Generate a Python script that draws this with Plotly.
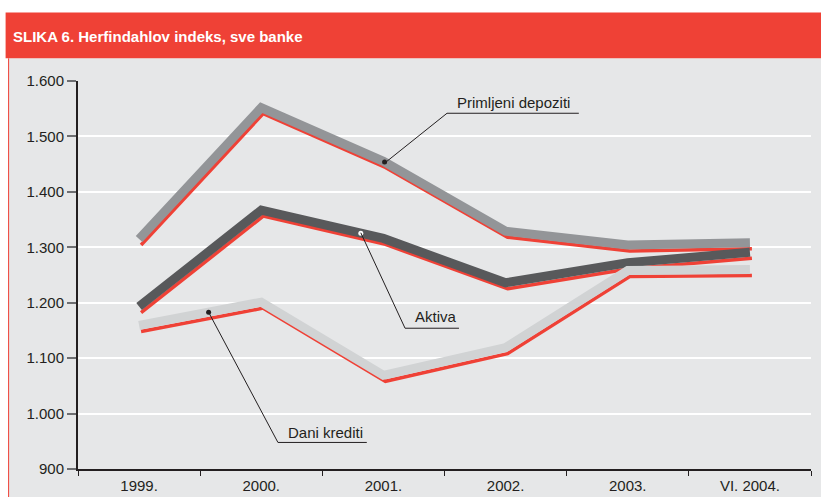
import numpy as np
import plotly.graph_objects as go

# ---- data ----
categories = ["1999.", "2000.", "2001.", "2002.", "2003.", "VI. 2004."]
primljeni_depoziti = [1315, 1552, 1455, 1329, 1304, 1308]
aktiva = [1193, 1367, 1316, 1236, 1272, 1291]
dani_krediti = [1159, 1201, 1069, 1119, 1258, 1260]
y_tickvals = [900, 1000, 1100, 1200, 1300, 1400, 1500, 1600]
y_ticktext = ["900", "1.000", "1.100", "1.200", "1.300", "1.400", "1.500", "1.600"]
title_text = "SLIKA 6. Herfindahlov indeks, sve banke"

# ---- layout geometry (pixels) ----
W, H = 821, 497
ML, MR, MT, MB = 77.5, 9.5, 80.7, 27.7
PW, PH = W - ML - MR, H - MT - MB
Y0, Y1 = 900, 1600
nC = len(categories)
X0, X1 = -0.5, nC - 0.5


def px(x):  # pixel x -> paper
    return (x - ML) / PW


def py(y):  # pixel y -> paper
    return (H - MB - y) / PH


def dx(x):  # pixel x -> data x
    return X0 + (x - ML) / PW * (X1 - X0)


def dy(y):  # pixel y -> data y
    return Y0 + (H - MB - y) / PH * (Y1 - Y0)


xs = np.arange(nC)
RED = "#ef4136"
PANEL = "#e6e7e8"
TXT = "#231f20"

series = [
    ("Primljeni depoziti", primljeni_depoziti, "#939598"),
    ("Aktiva", aktiva, "#58595b"),
    ("Dani krediti", dani_krediti, "#d1d3d4"),
]

# shadow offset (style): ~2px right, ~6px down
sh_x = 2.0 / PW * (X1 - X0)
sh_y = 6.0 / PH * (Y1 - Y0)

fig = go.Figure()
for name, vals, col in series:
    fig.add_trace(go.Scatter(x=xs + sh_x, y=np.array(vals) - sh_y, mode="lines",
                             line=dict(color=RED, width=3.5), hoverinfo="skip",
                             showlegend=False))
for name, vals, col in series:
    fig.add_trace(go.Scatter(x=xs, y=vals, mode="lines", name=name,
                             line=dict(color=col, width=9), showlegend=False))

# leader dots on the lines
dot_specs = [
    (primljeni_depoziti, dx(384.5), "#231f20"),
    (aktiva, dx(360.7), "#ffffff"),
    (dani_krediti, dx(208.3), "#231f20"),
]
for vals, xd, col in dot_specs:
    yd = float(np.interp(xd, xs, vals))
    fig.add_trace(go.Scatter(x=[xd], y=[yd], mode="markers",
                             marker=dict(color=col, size=5, line=dict(width=0)),
                             hoverinfo="skip", showlegend=False))

shapes = [
    # gray panel
    dict(type="rect", xref="paper", yref="paper", x0=px(8), x1=px(W + 10), y0=py(58), y1=py(H + 10),
         fillcolor=PANEL, line=dict(width=0), layer="below"),
    # red title bar
    dict(type="rect", xref="paper", yref="paper", x0=px(5), x1=px(W + 10), y0=py(12), y1=py(58),
         fillcolor=RED, line=dict(width=0), layer="below"),
    # red left border
    dict(type="line", xref="paper", yref="paper", x0=px(8), x1=px(8), y0=py(58), y1=py(H + 10),
         line=dict(color=RED, width=1), layer="below"),
]

# leader lines + underlines
leaders = [
    # (dot px, corner px, underline end px)
    ((384.5, 163), (447, 113), (579, 113)),
    ((360.7, 232.7), (405, 328.3), (459, 328.3)),
    ((208.3, 312.3), (277.7, 442.7), (366.7, 442.7)),
]
for (ax_, ay_), (bx, by), (cx, cy) in leaders:
    shapes.append(dict(type="line", xref="x", yref="y", x0=dx(ax_), y0=dy(ay_), x1=dx(bx), y1=dy(by),
                       line=dict(color=TXT, width=1)))
    shapes.append(dict(type="line", xref="x", yref="y", x0=dx(bx), y0=dy(by), x1=dx(cx), y1=dy(cy),
                       line=dict(color=TXT, width=1)))

annotations = [
    dict(text="<b>" + title_text + "</b>", xref="paper", yref="paper", x=px(10), y=py(36),
         xanchor="left", yanchor="middle", showarrow=False,
         font=dict(family="Arial", size=15, color="white")),
    dict(text="Primljeni depoziti", xref="x", yref="y", x=dx(514), y=dy(102), xanchor="center",
         yanchor="middle", showarrow=False, font=dict(family="Arial", size=15, color=TXT)),
    dict(text="Aktiva", xref="x", yref="y", x=dx(436), y=dy(317), xanchor="center",
         yanchor="middle", showarrow=False, font=dict(family="Arial", size=15, color=TXT)),
    dict(text="Dani krediti", xref="x", yref="y", x=dx(325.5), y=dy(433), xanchor="center",
         yanchor="middle", showarrow=False, font=dict(family="Arial", size=15, color=TXT)),
]

fig.update_layout(
    width=W, height=H,
    margin=dict(l=ML, r=MR, t=MT, b=MB, pad=0, autoexpand=False),
    paper_bgcolor="white",
    plot_bgcolor=PANEL,
    shapes=shapes,
    annotations=annotations,
    font=dict(family="Arial", size=15, color=TXT),
    xaxis=dict(range=[X0, X1], tickvals=list(xs), ticktext=categories, ticks="",
               showgrid=False, zeroline=False, showline=True, linecolor=TXT, linewidth=2,
               tickfont=dict(size=15, color=TXT), ticklabelstandoff=2, automargin=False,
               minor=dict(tickmode="array", tickvals=[i - 0.5 for i in range(nC + 1)],
                          ticks="outside", ticklen=5, tickwidth=1, tickcolor=TXT, showgrid=False)),
    yaxis=dict(range=[Y0, Y1], tickvals=y_tickvals, ticktext=y_ticktext, ticks="outside",
               ticklen=9, tickwidth=1.5, tickcolor="#6d6e71", showgrid=True, gridcolor="white",
               gridwidth=1.5, zeroline=False, showline=True, linecolor=TXT, linewidth=2,
               tickfont=dict(size=15, color=TXT), automargin=False),
)

fig.write_html("out.html", config={"displayModeBar": False},
               post_script="document.body.style.margin='0';document.body.style.overflow='hidden';")
